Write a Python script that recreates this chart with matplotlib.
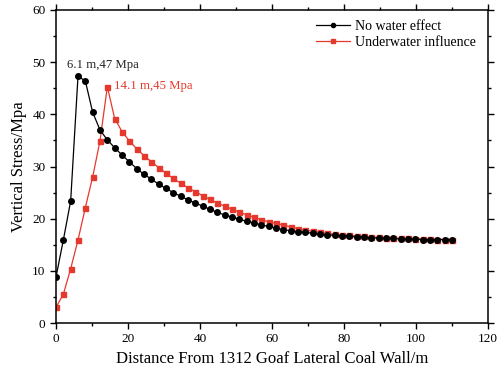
import matplotlib.pyplot as plt
import numpy as np

plt.rcParams['font.family'] = ['Liberation Serif', 'DejaVu Serif']

# 55 sample points between 0 and 110 m
distance = np.linspace(0, 110, 55)

no_water = [8.8, 15.9, 23.4, 47.3, 46.4, 40.4, 37.0, 35.1, 33.6, 32.2,
            30.9, 29.6, 28.5, 27.6, 26.6, 25.8, 25.0, 24.3, 23.6, 23.0,
            22.4, 21.8, 21.2, 20.7, 20.3, 19.9, 19.5, 19.2, 18.8, 18.5,
            18.2, 17.9, 17.7, 17.5, 17.4, 17.2, 17.1, 16.9, 16.8, 16.7,
            16.6, 16.5, 16.4, 16.3, 16.3, 16.2, 16.2, 16.1, 16.1, 16.1,
            16.0, 16.0, 16.0, 16.0, 16.0]

underwater = [3.0, 5.5, 10.4, 15.9, 22.1, 28.0, 34.9, 45.3, 39.2, 36.7,
              34.9, 33.4, 32.1, 30.9, 29.8, 28.7, 27.7, 26.8, 25.9, 25.2,
              24.4, 23.7, 23.0, 22.4, 21.8, 21.3, 20.7, 20.3, 19.8, 19.4,
              19.1, 18.8, 18.4, 18.1, 17.8, 17.6, 17.4, 17.2, 17.0, 16.9,
              16.8, 16.7, 16.6, 16.5, 16.4, 16.3, 16.3, 16.2, 16.2, 16.1,
              16.1, 16.1, 16.0, 16.0, 16.0]

red = '#e5392e'

fig = plt.figure(figsize=(4.98, 3.76), dpi=100)
ax = fig.add_axes([56 / 498, 1 - 323 / 376, 432 / 498, 313 / 376])

ax.plot(distance, no_water, color='black', lw=0.9, marker='o', ms=4,
        label='No water effect', zorder=3)
ax.plot(distance, underwater, color=red, lw=0.9, marker='s', ms=3.6,
        label='Underwater influence', zorder=2)

ax.text(3.1, 49.4, '6.1 m,47 Mpa', fontsize=9.2, color='#222222', va='center')
ax.text(16.1, 45.5, '14.1 m,45 Mpa', fontsize=9.2, color=red, va='center')

ax.set_xlim(0, 120)
ax.set_ylim(0, 60)
ax.set_xticks(range(0, 121, 20))
ax.set_xticks(range(0, 121, 10), minor=True)
ax.set_yticks(range(0, 61, 10))
ax.set_yticks(range(0, 61, 5), minor=True)
ax.tick_params(which='both', direction='out', top=True, right=True,
               labelsize=9.5, width=1)
ax.tick_params(which='major', length=4)
ax.tick_params(which='minor', length=2.5)
for s in ax.spines.values():
    s.set_linewidth(1.1)

ax.set_xlabel('Distance From 1312 Goaf Lateral Coal Wall/m', fontsize=12)
ax.set_ylabel('Vertical Stress/Mpa', fontsize=12)

ax.legend(loc='upper right', frameon=False, fontsize=10, handlelength=2.4,
          handletextpad=0.4, labelspacing=0.2, borderaxespad=0.3,
          markerscale=0.75, bbox_to_anchor=(0.995, 1.0))

fig.savefig('out.png', dpi=100)
